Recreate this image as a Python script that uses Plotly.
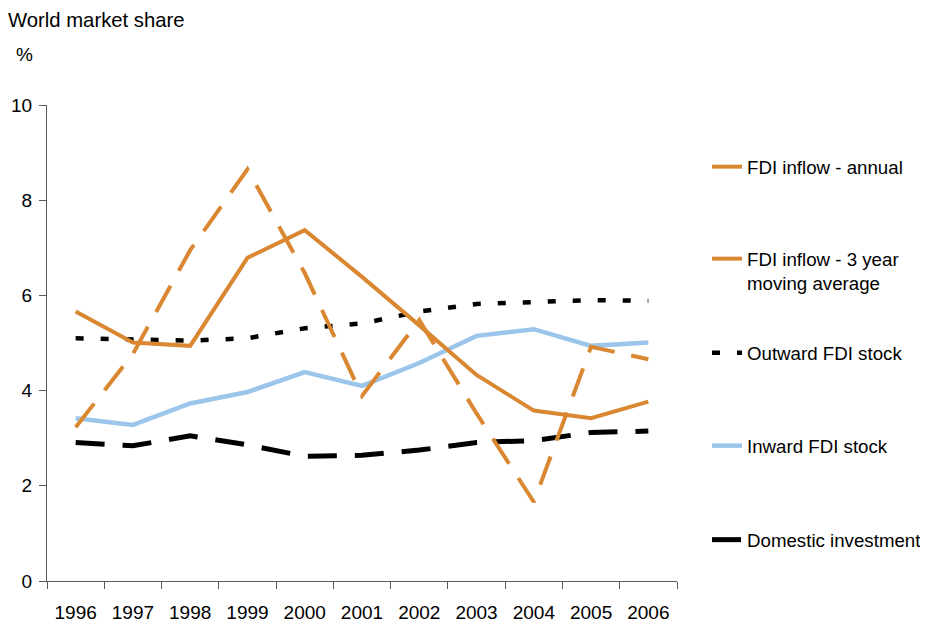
import plotly.graph_objects as go

years = ["1996", "1997", "1998", "1999", "2000", "2001", "2002", "2003", "2004", "2005", "2006"]
fdi_inflow_annual = [3.23, 4.77, 6.95, 8.65, 6.47, 3.89, 5.48, 3.52, 1.66, 4.92, 4.66]
fdi_inflow_3yr = [5.66, 5.01, 4.94, 6.79, 7.37, 6.39, 5.37, 4.33, 3.58, 3.42, 3.77]
outward_fdi_stock = [5.10, 5.08, 5.05, 5.10, 5.31, 5.41, 5.66, 5.82, 5.87, 5.90, 5.89]
inward_fdi_stock = [3.42, 3.28, 3.73, 3.97, 4.39, 4.10, 4.58, 5.15, 5.29, 4.94, 5.01]
domestic_investment = [2.91, 2.84, 3.05, 2.86, 2.62, 2.64, 2.75, 2.91, 2.95, 3.12, 3.15]

ORANGE = "#DA8731"
BLUE = "#9BC5EA"
FONT = "Liberation Sans, Arial, sans-serif"

fig = go.Figure()

fig.add_trace(go.Scatter(x=years, y=domestic_investment, name="Domestic investment", mode="lines",
                         line=dict(color="black", width=5, dash="29px,18px"), legend="legend5"))
fig.add_trace(go.Scatter(x=years, y=inward_fdi_stock, name="Inward FDI stock", mode="lines",
                         line=dict(color=BLUE, width=4.5), legend="legend4"))
fig.add_trace(go.Scatter(x=years, y=outward_fdi_stock, name="Outward FDI stock", mode="lines",
                         line=dict(color="black", width=4.5, dash="8px,17px"), legend="legend3"))
fig.add_trace(go.Scatter(x=years, y=fdi_inflow_3yr, name="FDI inflow - 3 year<br>moving average", mode="lines",
                         line=dict(color=ORANGE, width=4), legend="legend2"))
fig.add_trace(go.Scatter(x=years, y=fdi_inflow_annual, name="FDI inflow - annual", mode="lines",
                         line=dict(color=ORANGE, width=4, dash="30px,17px"), legend="legend"))

# page body has an 8px margin; work in reference-pixel coordinates and shift
OFF = 8
W, H = 928 - OFF, 624 - OFF
L, R, T, B = 47, 677, 105, 581  # plot area in reference pixels

def py(pix):
    return (B - pix) / (B - T)

def px(pix):
    return (pix - L) / (R - L)

leg_common = dict(font=dict(family=FONT, size=18.7, color="black"), bgcolor="rgba(0,0,0,0)",
                  xanchor="left", yanchor="middle", x=px(747 - 40), itemwidth=30)

fig.update_layout(
    width=W, height=H,
    margin=dict(l=L - OFF, r=(W + OFF) - R, t=T - OFF, b=(H + OFF) - B, autoexpand=False),
    paper_bgcolor="white", plot_bgcolor="white",
    font=dict(family=FONT, size=19, color="black"),
    showlegend=True,
    legend=dict(**leg_common, y=py(167)),
    legend2=dict(**leg_common, y=py(271), valign="top"),
    legend3=dict(**leg_common, y=py(353)),
    legend4=dict(**leg_common, y=py(446)),
    legend5=dict(**leg_common, y=py(540)),
    xaxis=dict(type="category", tickson="boundaries", ticks="outside", ticklen=7,
               tickcolor="#595959", showline=True, linecolor="#595959", linewidth=1.3,
               showgrid=False, range=[-0.5, 10.5], tickfont=dict(size=19),
               ticklabelstandoff=14, automargin=False),
    yaxis=dict(range=[0, 10], dtick=2, ticks="outside", ticklen=7, tickcolor="#595959",
               showline=True, linecolor="#595959", linewidth=1.3, showgrid=False,
               zeroline=False, tickfont=dict(size=19), ticklabelstandoff=3, automargin=False),
    annotations=[
        dict(text="World market share", xref="paper", yref="paper", x=px(6), y=py(20),
             xanchor="left", yanchor="middle", showarrow=False, font=dict(size=20.3)),
        dict(text="%", xref="paper", yref="paper", x=px(14), y=py(55),
             xanchor="left", yanchor="middle", showarrow=False, font=dict(size=19)),
    ],
)

fig.write_html("out.html")
